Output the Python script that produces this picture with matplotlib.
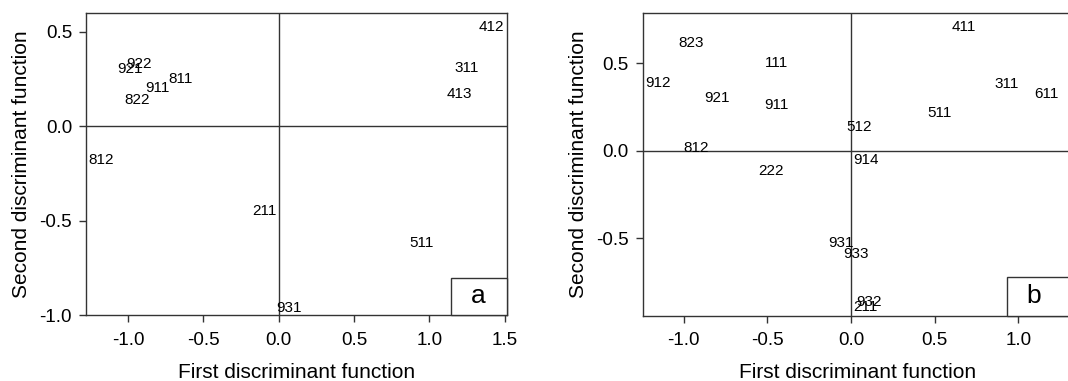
import matplotlib
matplotlib.use("Agg")
import matplotlib.pyplot as plt
from matplotlib.patches import Rectangle

plt.rcParams['font.family'] = ['Liberation Sans', 'DejaVu Sans']
plt.rcParams['axes.unicode_minus'] = False

# panel a: site codes and discriminant scores
labels_a = ["412", "311", "413", "922", "921", "811", "911", "822", "812", "211", "511", "931"]
x_a = [1.41, 1.25, 1.20, -0.927, -0.985, -0.655, -0.805, -0.94, -1.178, -0.096, 0.945, 0.067]
y_a = [0.526, 0.309, 0.171, 0.329, 0.302, 0.247, 0.20, 0.138, -0.18, -0.449, -0.618, -0.961]

# panel b
labels_b = ["823", "411", "111", "912", "921", "911", "311", "611", "511", "512",
            "812", "914", "222", "931", "933", "932", "211"]
x_b = [-0.958, 0.675, -0.444, -1.154, -0.799, -0.446, 0.931, 1.168, 0.530, 0.05,
       -0.928, 0.088, -0.48, -0.058, 0.03, 0.108, 0.088]
y_b = [0.613, 0.707, 0.499, 0.384, 0.302, 0.259, 0.379, 0.323, 0.213, 0.133,
       0.014, -0.053, -0.114, -0.525, -0.591, -0.861, -0.893]

xticks_a = [-1.0, -0.5, 0.0, 0.5, 1.0, 1.5]
yticks_a = [-1.0, -0.5, 0.0, 0.5]
xticks_b = [-1.0, -0.5, 0.0, 0.5, 1.0]
yticks_b = [-0.5, 0.0, 0.5]

line_col = "#333333"

fig = plt.figure(figsize=(10.68, 3.81), dpi=100)
ax_a = fig.add_axes([0.0805, 0.1732, 0.3942, 0.7935])
ax_b = fig.add_axes([0.6018, 0.1714, 0.4019, 0.7953])


def draw_panel(ax, labels, xs, ys, xlim, ylim, xticks, yticks, letter, box_x, box_y, letter_x):
    ax.set_xlim(*xlim)
    ax.set_ylim(*ylim)
    ax.axhline(0, color=line_col, lw=1.0, zorder=1)
    ax.axvline(0, color=line_col, lw=1.0, zorder=1)
    for lab, x, y in zip(labels, xs, ys):
        ax.text(x, y, lab, fontsize=11, ha='center', va='center', color='black', zorder=3)
    ax.set_xticks(xticks)
    ax.set_yticks(yticks)
    ax.set_xticklabels(["%.1f" % t for t in xticks])
    ax.set_yticklabels(["%.1f" % t for t in yticks])
    ax.tick_params(direction='out', length=5, width=1, color=line_col,
                   labelsize=13.5, pad=5)
    ax.tick_params(axis='x', pad=7)
    for sp in ax.spines.values():
        sp.set_color(line_col)
        sp.set_linewidth(1.0)
    ax.set_xlabel("First discriminant function", fontsize=15, labelpad=10)
    ax.set_ylabel("Second discriminant function", fontsize=15, labelpad=6)
    # letter box in lower right corner
    w = xlim[1] - box_x
    h = box_y - ylim[0]
    ax.add_patch(Rectangle((box_x, ylim[0]), w, h, facecolor='white',
                           edgecolor=line_col, lw=1.0, zorder=4, clip_on=False))
    ax.text(letter_x, ylim[0] + h / 2, letter, fontsize=19, ha='center', va='center', zorder=5)


draw_panel(ax_a, labels_a, x_a, y_a, (-1.28, 1.515), (-1.0, 0.6),
           xticks_a, yticks_a, "a", 1.144, -0.802, 1.326)
draw_panel(ax_b, labels_b, x_b, y_b, (-1.245, 1.32), (-0.941, 0.787),
           xticks_b, yticks_b, "b", 0.93, -0.722, 1.094)

fig.savefig("out.png", dpi=100)
